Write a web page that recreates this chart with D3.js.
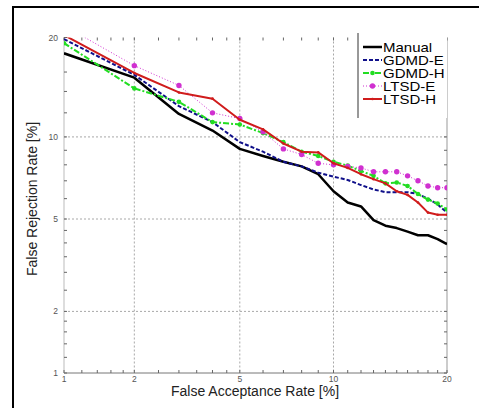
<!DOCTYPE html>
<html lang="en">
<head>
    <meta charset="UTF-8">
    <title>DET curves</title>
    <script src="https://d3js.org/d3.v7.min.js"></script>
    <style>
        body { margin: 0; padding: 0; background: #fff; }
        svg { display: block; font-family: Arial, "Liberation Sans", sans-serif; }
    </style>
</head>
<body>
    <svg id="chart" width="479" height="408"></svg>

    <script>
        // Data (rates in %)
        const far = [1, 2, 3, 4, 5, 6, 7, 8, 9, 10, 11, 12, 13, 14, 15, 16, 17, 18, 19, 20];
        const manual = [18.1, 15.4, 11.9, 10.5, 9.1, 8.6, 8.2, 7.9, 7.4, 6.4, 5.8, 5.6, 4.95, 4.7, 4.6, 4.45, 4.3, 4.3, 4.15, 3.95];
        const gdmdE = [19.8, 15.7, 12.6, 11.2, 9.6, 8.9, 8.2, 7.9, 7.5, 7.25, 7.05, 6.75, 6.5, 6.35, 6.35, 6.35, 6.25, 6.0, 5.7, 5.3];
        const gdmdH = [19.3, 14.3, 13.0, 11.2, 11.0, 10.3, 9.6, 8.9, 8.6, 8.2, 7.95, 7.6, 7.3, 6.85, 6.9, 6.7, 6.25, 5.95, 5.75, 5.45];
        const ltsdE = [21.5, 16.7, 14.6, 12.0, 11.5, 10.4, 9.1, 8.7, 8.1, 8.0, 7.9, 7.8, 7.55, 7.55, 7.55, 7.3, 7.0, 6.7, 6.6, 6.6];
        const ltsdH = [20.3, 15.9, 13.9, 13.3, 11.4, 10.6, 9.5, 8.9, 8.85, 8.1, 7.8, 7.4, 7.1, 6.85, 6.4, 6.2, 5.8, 5.3, 5.2, 5.2];

        const majorTicks = [1, 2, 5, 10, 20];
        const gridTicks = [2, 5, 10];
        const xMinorTicks = [1.2, 1.4, 1.6, 1.8, 2.5, 3, 3.5, 4, 4.5, 6, 7, 8, 9, 11, 12, 13, 14, 15, 16, 17, 18, 19];
        const yMinorTicks = [1.2, 1.4, 1.6, 1.8, 2.5, 3, 3.5, 4, 4.5, 6, 7, 8, 9, 12, 14, 16, 18];

        const series = [
            { name: "Manual", values: manual, color: "#000000", width: 2.5, dash: null, marker: 0 },
            { name: "GDMD-E", values: gdmdE, color: "#10108a", width: 2, dash: "4,2", marker: 0 },
            { name: "GDMD-H", values: gdmdH, color: "#22dd22", width: 2, dash: "6,2,2,2", marker: 2.3 },
            { name: "LTSD-E", values: ltsdE, color: "#d030d0", width: 1, dash: "1,2", marker: 2.7 },
            { name: "LTSD-H", values: ltsdH, color: "#d01c1c", width: 2, dash: null, marker: 1.3 }
        ];

        // inverse normal CDF (Acklam) - DET plots use normal deviate axes
        function probit(p) {
            const a = [-3.969683028665376e+01, 2.209460984245205e+02, -2.759285104469687e+02, 1.383577518672690e+02, -3.066479806614716e+01, 2.506628277459239e+00];
            const b = [-5.447609879822406e+01, 1.615858368580409e+02, -1.556989798598866e+02, 6.680131188771972e+01, -1.328068155288572e+01];
            const c = [-7.784894002430293e-03, -3.223964580411365e-01, -2.400758277161838e+00, -2.549732539343734e+00, 4.374664141464968e+00, 2.938163982698783e+00];
            const d = [7.784695709041462e-03, 3.224671290700398e-01, 2.445134137142996e+00, 3.754408661907416e+00];
            const pLow = 0.02425;
            let q, r;
            if (p < pLow) {
                q = Math.sqrt(-2 * Math.log(p));
                return (((((c[0]*q+c[1])*q+c[2])*q+c[3])*q+c[4])*q+c[5]) / ((((d[0]*q+d[1])*q+d[2])*q+d[3])*q+1);
            } else if (p <= 1 - pLow) {
                q = p - 0.5;
                r = q * q;
                return (((((a[0]*r+a[1])*r+a[2])*r+a[3])*r+a[4])*r+a[5])*q / (((((b[0]*r+b[1])*r+b[2])*r+b[3])*r+b[4])*r+1);
            }
            q = Math.sqrt(-2 * Math.log(1 - p));
            return -(((((c[0]*q+c[1])*q+c[2])*q+c[3])*q+c[4])*q+c[5]) / ((((d[0]*q+d[1])*q+d[2])*q+d[3])*q+1);
        }

        const plotLeft = 64, plotRight = 447, plotTop = 37.5, plotBottom = 373;

        const xLin = d3.scaleLinear().domain([probit(0.01), probit(0.20)]).range([plotLeft, plotRight]);
        const yLin = d3.scaleLinear().domain([probit(0.01), probit(0.20)]).range([plotBottom, plotTop]);
        const x = v => xLin(probit(v / 100));
        const y = v => yLin(probit(v / 100));

        const svg = d3.select("#chart");

        svg.append("rect").attr("width", 479).attr("height", 408).attr("fill", "#fff");

        // outer frame (cropped on right / bottom)
        svg.append("rect")
            .attr("x", 13).attr("y", 7)
            .attr("width", 500).attr("height", 450)
            .attr("fill", "none").attr("stroke", "#000").attr("stroke-width", 2);

        svg.append("clipPath").attr("id", "plot-clip")
            .append("rect")
            .attr("x", plotLeft).attr("y", plotTop)
            .attr("width", plotRight - plotLeft).attr("height", plotBottom - plotTop);

        // grid
        const grid = svg.append("g").attr("stroke", "#a8a8a8").attr("stroke-width", 1).attr("stroke-dasharray", "2,2");
        grid.selectAll(".gx").data(gridTicks).join("line")
            .attr("x1", d => x(d)).attr("x2", d => x(d))
            .attr("y1", plotTop).attr("y2", plotBottom);
        grid.selectAll(".gy").data(gridTicks).join("line")
            .attr("y1", d => y(d)).attr("y2", d => y(d))
            .attr("x1", plotLeft).attr("x2", plotRight);

        // axis box
        svg.append("line").attr("x1", plotLeft).attr("x2", plotRight).attr("y1", plotBottom).attr("y2", plotBottom)
            .attr("stroke", "#777").attr("stroke-width", 1);
        svg.append("line").attr("x1", plotLeft).attr("x2", plotLeft).attr("y1", plotTop).attr("y2", plotBottom)
            .attr("stroke", "#bbb").attr("stroke-width", 1);
        svg.append("line").attr("x1", plotRight).attr("x2", plotRight).attr("y1", plotTop).attr("y2", plotBottom)
            .attr("stroke", "#999").attr("stroke-width", 1);

        // ticks on all four sides
        const ticks = svg.append("g").attr("stroke", "#666").attr("stroke-width", 1);
        const allX = majorTicks.concat(xMinorTicks);
        const allY = majorTicks.concat(yMinorTicks);
        ticks.selectAll(".tb").data(allX).join("line")
            .attr("x1", d => x(d)).attr("x2", d => x(d))
            .attr("y1", plotBottom).attr("y2", plotBottom - 3);
        ticks.selectAll(".tt").data(allX).join("line")
            .attr("x1", d => x(d)).attr("x2", d => x(d))
            .attr("y1", plotTop).attr("y2", plotTop + 3);
        ticks.selectAll(".tl").data(allY).join("line")
            .attr("y1", d => y(d)).attr("y2", d => y(d))
            .attr("x1", plotLeft).attr("x2", plotLeft + 3);
        ticks.selectAll(".tr").data(allY).join("line")
            .attr("y1", d => y(d)).attr("y2", d => y(d))
            .attr("x1", plotRight).attr("x2", plotRight - 3);

        // tick labels
        svg.append("g").selectAll("text").data(majorTicks).join("text")
            .attr("x", d => x(d)).attr("y", plotBottom + 8.5)
            .attr("text-anchor", "middle")
            .attr("font-size", 8.5).attr("fill", "#555")
            .text(d => d);
        svg.append("g").selectAll("text").data(majorTicks).join("text")
            .attr("x", plotLeft - 6).attr("y", d => y(d) + 3)
            .attr("text-anchor", "end")
            .attr("font-size", 8.5).attr("fill", "#555")
            .text(d => d);

        // axis titles
        svg.append("text")
            .attr("x", 255).attr("y", 396)
            .attr("text-anchor", "middle")
            .attr("font-size", 14).attr("fill", "#222")
            .text("False Acceptance Rate [%]");
        svg.append("text")
            .attr("transform", "translate(37, 199) rotate(-90)")
            .attr("text-anchor", "middle")
            .attr("font-size", 14).attr("fill", "#222")
            .text("False Rejection Rate [%]");

        // curves
        const plot = svg.append("g").attr("clip-path", "url(#plot-clip)");
        const line = d3.line()
            .x(d => x(d[0]))
            .y(d => y(d[1]));

        series.forEach(s => {
            const pts = far.map((f, i) => [f, s.values[i]]);
            plot.append("path")
                .datum(pts)
                .attr("fill", "none")
                .attr("stroke", s.color)
                .attr("stroke-width", s.width)
                .attr("stroke-dasharray", s.dash)
                .attr("stroke-linejoin", "round")
                .attr("d", line);
            if (s.marker) {
                plot.selectAll(null).data(pts).join("circle")
                    .attr("cx", d => x(d[0]))
                    .attr("cy", d => y(d[1]))
                    .attr("r", s.marker)
                    .attr("fill", s.color);
            }
        });

        // legend
        const legend = svg.append("g");
        legend.append("rect")
            .attr("x", 358).attr("y", 33)
            .attr("width", plotRight - 358).attr("height", 85)
            .attr("fill", "#fff");
        legend.append("line")
            .attr("x1", 358).attr("x2", 358).attr("y1", 33).attr("y2", 118)
            .attr("stroke", "#333").attr("stroke-width", 1);

        const rows = legend.selectAll(".row").data(series).join("g")
            .attr("transform", (d, i) => `translate(0, ${47 + i * 13})`);
        rows.append("line")
            .attr("x1", 363).attr("x2", 382).attr("y1", 0).attr("y2", 0)
            .attr("stroke", d => d.color)
            .attr("stroke-width", d => d.width)
            .attr("stroke-dasharray", d => d.dash);
        rows.filter(d => d.marker).append("circle")
            .attr("cx", 372.5).attr("cy", 0)
            .attr("r", d => d.marker)
            .attr("fill", d => d.color);
        rows.append("text")
            .attr("transform", "translate(383, 4.5) scale(1.2, 1)")
            .attr("font-size", 12.5).attr("fill", "#000")
            .text(d => d.name);
    </script>
</body>
</html>
